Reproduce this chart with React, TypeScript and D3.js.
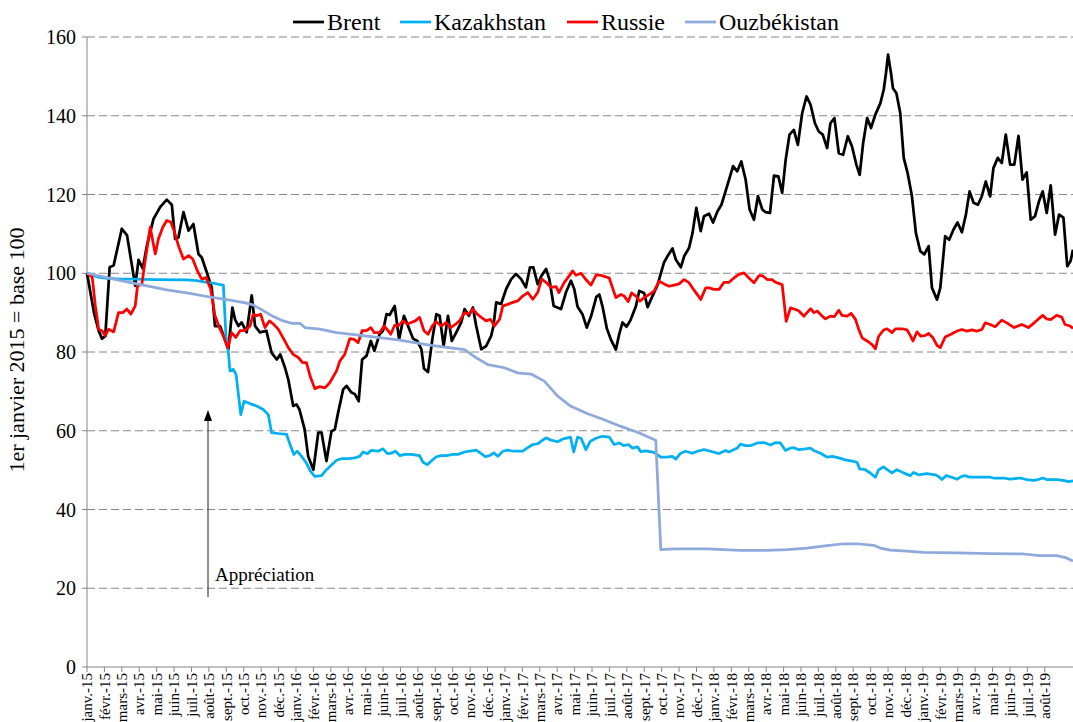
import React from "react";
import * as d3 from "d3";

// time in months since 1 Jan 2015 (0 = janv.-15)
const brentT = [0,0.42,0.67,0.86,1.05,1.3,1.53,2.0,2.3,2.77,2.96,3.2,3.44,3.82,4.2,4.58,4.87,5.06,5.25,5.54,5.83,6.11,6.4,6.59,6.88,7.16,7.35,7.64,8.12,8.35,8.5,8.69,8.88,9.17,9.46,9.65,9.93,10.3,10.6,10.9,11.1,11.37,11.56,11.84,12.03,12.2,12.5,12.7,13.0,13.28,13.47,13.75,14.04,14.23,14.42,14.71,14.9,15.19,15.38,15.6,15.8,16.05,16.3,16.5,16.8,17.0,17.2,17.38,17.67,17.92,18.2,18.47,18.72,18.97,19.2,19.35,19.58,19.83,20.06,20.25,20.48,20.73,20.95,21.2,21.49,21.68,21.93,22.16,22.35,22.64,22.92,23.21,23.34,23.5,23.78,24.07,24.36,24.64,24.93,25.2,25.44,25.63,25.88,26.1,26.36,26.55,26.8,27.22,27.5,27.79,27.98,28.17,28.46,28.7,28.94,29.25,29.42,29.6,29.85,30.1,30.37,30.56,30.75,30.98,31.2,31.52,31.71,31.99,32.19,32.47,32.76,33.14,33.33,33.62,33.81,34.1,34.29,34.57,34.77,34.99,35.24,35.43,35.72,35.95,36.2,36.43,36.64,36.87,37.1,37.34,37.57,37.82,38.05,38.3,38.53,38.78,38.97,39.22,39.45,39.7,39.92,40.12,40.34,40.59,40.82,41.07,41.32,41.55,41.8,42.02,42.25,42.5,42.69,42.92,43.17,43.42,43.69,43.93,44.18,44.37,44.57,44.8,45.02,45.27,45.56,45.75,45.88,46.0,46.17,46.28,46.48,46.7,46.9,47.12,47.37,47.6,47.85,48.08,48.33,48.52,48.81,49.0,49.28,49.51,49.76,49.99,50.24,50.47,50.68,50.91,51.16,51.38,51.61,51.86,52.05,52.3,52.53,52.76,53.01,53.25,53.49,53.72,53.96,54.19,54.44,54.67,54.88,55.11,55.34,55.59,55.82,56.07,56.29,56.48,56.62];
const brentV = [100,89.6,85.4,83.4,84,101.5,102,111.3,109.6,96.8,103.4,101.2,107,113.8,116.8,118.7,117.4,108.7,109.1,115.5,110.8,112.5,104.9,104,100.2,96.4,86.6,86.6,80.7,91.3,88.3,86.6,87.5,85,94.4,86.6,85,85.4,79.8,78.1,79.4,76,73,66.3,66.7,65.4,60.3,53.5,50.1,59.5,59.5,52.3,59.9,60.3,64.6,70.5,71.4,69.7,69.3,67.5,78.1,79,82.8,80.3,84.5,85.4,89.6,89.4,91.7,83.2,89.2,86.2,83.4,82.8,80.7,75.8,74.9,83.2,89.6,89.2,81.5,89.2,82.8,84.9,87.5,90.9,89.2,91.3,86.6,80.7,81.5,84.1,86.6,92.6,92.2,96,98.5,99.8,98.5,96.4,101.5,101.5,97.2,99.4,101.1,98.5,91.7,90.9,95.1,98.1,96,91.5,89.5,86.2,89,94,94.6,91.6,86,83,80.6,84.5,87.5,86.4,88,91.6,95.5,95,91.4,94.2,97,102.8,104.3,106.3,103.5,101.5,104.3,106.4,110.2,116.6,110.7,114.5,115.1,112.9,115.7,117.4,120.4,123.8,127.2,125.9,128.4,123.8,116.2,113.6,119.6,116.2,115.5,115.3,124.8,124.6,120.4,128.8,135.2,136.4,132.6,140.7,144.9,142.8,138.1,136,135.2,131.8,138.1,139.4,130.5,130.1,134.8,132.2,127.6,125,133.1,139.4,136.9,140.3,143.2,146.6,150.8,155.5,150.8,147,145.7,140.7,129.3,125.5,119.6,110.2,105.6,104.8,106.9,96.3,93.3,96.3,109.4,108.5,111.1,112.9,110.4,114.9,120.8,117.9,117.4,119.5,123.3,119.5,126.7,129.3,128,135.2,127.6,127.6,134.9,123.8,125.6,113.6,114.5,118.3,120.8,115.3,122.3,109.8,114.9,114.1,101.8,103.1,106];

const kazT = [0,0.57,1.15,1.91,2.87,3.82,5.73,6.3,6.88,7.26,7.55,7.83,7.98,8.12,8.21,8.4,8.56,8.83,9.02,9.36,9.74,10.12,10.41,10.6,10.98,11.46,11.69,11.88,12.07,12.32,12.6,12.84,13.08,13.47,13.75,14.04,14.33,14.61,15.0,15.38,15.66,15.85,16.1,16.33,16.71,17.0,17.25,17.48,17.71,17.96,18.25,18.62,19.1,19.29,19.54,19.77,20.06,20.34,20.63,21.01,21.3,21.68,21.97,22.35,22.64,22.87,23.12,23.36,23.59,23.88,24.16,24.45,24.74,25.02,25.31,25.6,25.88,26.11,26.36,26.65,27.03,27.32,27.6,27.76,27.95,28.17,28.37,28.65,28.9,29.22,29.6,29.99,30.27,30.56,30.81,31.08,31.33,31.61,31.8,32.09,32.56,32.95,33.3,33.61,33.81,34.09,34.38,34.76,35.05,35.43,35.81,36.29,36.67,36.86,37.34,37.53,37.82,38.1,38.49,38.87,39.25,39.54,39.82,40.11,40.4,40.59,40.87,41.26,41.54,41.73,42.12,42.5,42.79,43.17,43.55,44.03,44.22,44.37,44.69,44.94,45.27,45.46,45.74,46.03,46.22,46.51,46.89,47.27,47.46,47.75,48.23,48.71,48.9,49.09,49.34,49.66,49.95,50.23,50.42,50.71,51.28,51.86,52.05,52.62,53.0,53.58,53.96,54.34,54.63,54.88,55.1,55.68,56.06,56.35,56.62];
const kazV = [100,99.1,98.7,98.5,98.5,98.4,98.3,98.1,97.7,97.5,97.2,97,84.1,79.8,75.2,75.6,74.3,64.1,67.5,66.9,66.3,65.4,64.1,59.5,59.3,59.1,56.1,54,54.8,53.5,51.8,49.7,48.4,48.6,50.1,51.3,52.5,52.9,52.9,53.1,53.5,54.6,54.2,55,54.8,55.4,54.2,54.3,54.8,53.7,54,54,53.7,52,51.4,52.3,53.4,53.7,53.7,54,54,54.6,54.8,55.1,54.2,53.4,53.7,54.4,53.5,54.8,55.1,54.8,54.8,54.8,55.7,56.5,56.7,57.4,58.2,57.6,57.2,57.9,58.2,58.4,54.6,58.3,58.1,55.2,57.3,58.1,58.6,58.4,56.5,56.9,56.2,56.5,55.6,55.9,54.7,54.9,54.5,53.3,53.3,53.5,52.8,54.3,54.8,54.3,54.8,55.2,54.8,54.2,55,54.6,55.6,56.6,56.2,56.2,56.9,57,56.4,57,56.9,55,55.6,55.7,55.2,55.4,55.6,55,54.3,53.3,53.5,53.1,52.6,52.2,52,50.3,50.1,49.4,48.2,50.1,50.8,49.9,49.3,50.1,49.3,48.6,49.4,48.8,49.1,48.8,48.4,47.6,48.6,48.2,47.7,48.4,48.6,48.2,48.2,48.2,48,48,47.7,48,47.6,47.4,47.6,48,47.6,47.6,47.4,47.1,47.3];

const rusT = [0,0.3,0.48,0.67,0.86,1.05,1.24,1.53,1.81,2.06,2.29,2.52,2.77,2.9,3.15,3.34,3.63,3.92,4.1,4.35,4.58,4.81,5.0,5.25,5.54,5.83,6.07,6.34,6.59,6.84,7.1,7.35,7.6,7.83,8.08,8.31,8.54,8.79,9.07,9.36,9.55,9.74,9.97,10.22,10.47,10.7,10.98,11.31,11.56,11.84,12.13,12.38,12.6,12.84,13.08,13.37,13.66,13.94,14.33,14.52,14.8,15.09,15.34,15.57,15.8,16.05,16.3,16.5,16.8,17.06,17.29,17.44,17.67,17.86,18.15,18.4,18.62,18.85,19.1,19.35,19.58,19.83,20.06,20.34,20.63,20.88,21.15,21.39,21.68,21.91,22.16,22.41,22.64,22.92,23.17,23.4,23.69,23.88,24.16,24.45,24.74,25.02,25.31,25.6,25.88,26.11,26.36,26.65,26.94,27.1,27.41,27.7,27.89,28.08,28.37,28.65,28.94,29.23,29.5,29.7,29.99,30.18,30.37,30.66,30.85,31.08,31.27,31.52,31.75,31.99,32.28,32.57,32.86,33.14,33.43,33.72,34.0,34.29,34.57,34.86,35.11,35.24,35.53,35.72,36.01,36.3,36.58,36.87,37.15,37.44,37.73,38.01,38.3,38.59,38.78,39.06,39.34,39.54,39.92,40.15,40.4,40.69,40.88,41.17,41.55,41.74,41.93,42.22,42.41,42.69,42.92,43.17,43.36,43.65,43.88,44.13,44.32,44.51,44.8,45.08,45.27,45.46,45.75,45.94,46.23,46.42,46.8,47.09,47.24,47.43,47.66,47.89,48.14,48.33,48.58,48.81,49.0,49.28,49.61,49.95,50.24,50.52,50.81,51.1,51.38,51.58,51.86,52.15,52.53,52.82,53.24,53.68,54.06,54.44,54.88,55.11,55.34,55.68,55.97,56.16,56.45,56.62];
const rusV = [100,99,91.7,85.8,85.4,84.1,85.8,85.1,90,90,90.9,89.6,91.7,96.8,97.2,103.2,111.7,104.9,108.7,111.7,113.4,113,110.8,107,103.6,104.5,103.6,100.6,98.5,98.9,96,89.2,86.2,84.1,81.1,84.9,83.7,85.4,85.4,86.6,89.6,89.2,89.6,86.2,87.9,87.1,85.8,83.2,81.1,79.4,78.6,77.3,77.3,73.5,70.7,71.2,70.9,72.2,75.2,77.7,79.4,83.4,83.2,82.4,85.4,85.4,86.2,84.9,84.9,86.6,85.4,84.5,86.8,86.6,87.9,87.1,87.5,87.9,88.8,85.4,84.5,86.6,87.7,86.6,87.5,86.2,87,87.9,90,89.6,90.9,89.6,88.8,87.9,88.3,86.6,88.3,91.7,92.1,92.6,93,94.2,95.1,93.4,95.1,98.5,97.7,96.4,96.6,95.1,97.7,99.4,100.6,99.5,100,98.4,97,99.5,99.5,99.2,98.8,96.3,93.8,94.6,94.2,92.8,95,94.2,92.9,93.8,94.6,95.5,98,97.3,96.7,97,97.3,98.4,97.6,95.7,94.2,93.3,96.3,96.3,95.9,95.9,97.7,97.7,98.8,99.7,100.1,98.8,97.6,99.4,99.4,98.4,98.4,97.7,97.1,87.8,91.2,90.8,90.4,89.1,91,90,90.4,89.1,88.4,89.1,89,90.6,89.3,89.1,89.8,88.3,85.7,83.6,82.8,81.9,80.8,84,85.6,85.9,84.9,85.9,85.9,85.6,84.5,82.8,85.1,84,84.2,84.7,83.6,81.7,81.1,83.8,84.5,85.3,85.7,85.3,85.6,85.3,85.7,87.4,87,86.4,88.1,87.4,86.2,87,86.2,87.6,89.3,88.4,88.2,89.3,88.9,87,86.6,86];

const uzbT = [0,1.15,2.29,3.44,4.58,5.73,6.88,8.02,9.17,9.55,10.12,10.7,11.27,11.75,12.23,12.51,13.37,14.33,15.95,17.86,19.77,21.68,22.25,23.02,23.97,24.73,25.5,26.26,27.03,27.79,28.75,29.7,30.66,31.61,32.66,32.95,33.71,35.62,37.53,39.06,40.21,41.35,42.5,43.45,44.22,45.17,45.55,46.13,47.08,48.04,49.95,51.86,53.77,54.72,55.68,56.25,56.62];
const uzbV = [100,98.9,97.8,96.8,95.8,95,94.1,93.3,92.4,91.9,90.5,89,87.9,87.3,87.3,86.2,85.8,84.9,84.1,83.1,81.7,80.6,78.8,76.8,76,74.7,74.4,72.6,68.8,66.2,64.3,62.8,61.1,59.6,57.6,29.8,30,30,29.6,29.6,29.8,30.2,30.8,31.3,31.3,30.9,30.2,29.7,29.4,29.1,29,28.8,28.7,28.3,28.3,27.7,26.9];

const monthNames = ["janv.", "févr.", "mars", "avr.", "mai", "juin", "juil.", "août", "sept.", "oct.", "nov.", "déc."];
const years = ["15", "16", "17", "18", "19"];
const tickLabels: string[] = [];
years.forEach((yy) => monthNames.forEach((m) => tickLabels.push(`${m}-${yy}`)));
const xTickLabels = tickLabels.slice(0, 56); // janv.-15 .. août-19
const yTicks = [0, 20, 40, 60, 80, 100, 120, 140, 160];

const seriesNames = ["Brent", "Kazakhstan", "Russie", "Ouzbékistan"];
const seriesColors = ["#000000", "#00B0F0", "#FF0000", "#8EA9DB"];
const seriesT = [brentT, kazT, rusT, uzbT];
const seriesV = [brentV, kazV, rusV, uzbV];

const W = 1073, H = 722;
const FONT = '"Liberation Serif", "DejaVu Serif", serif';

export default function App() {
  const x = d3.scaleLinear().domain([0, 56.62]).range([87, 1073]);
  const y = d3.scaleLinear().domain([0, 160]).range([667, 37]);
  const line = d3
    .line<[number, number]>()
    .x((d) => x(d[0]))
    .y((d) => y(d[1]));

  const legendX = [293, 400, 567, 685];
  const txt = { fontFamily: FONT };

  return (
    <svg
      width={W}
      height={H}
      style={{ position: "absolute", left: 0, top: 0, background: "#fff", fontFamily: FONT }}
    >
      {/* gridlines */}
      {yTicks.filter((t) => t > 0).map((t) => (
        <line key={t} x1={x(0)} x2={W} y1={y(t)} y2={y(t)} stroke="#868686" strokeWidth={1} strokeDasharray="8,4" />
      ))}
      {/* y axis */}
      <line x1={x(0)} x2={x(0)} y1={y(160)} y2={y(0)} stroke="#868686" strokeWidth={1} />
      {yTicks.map((t) => (
        <g key={t}>
          <line x1={x(0) - 5} x2={x(0)} y1={y(t)} y2={y(t)} stroke="#868686" />
          <text x={76} y={y(t)} dy="0.35em" textAnchor="end" fontSize={20} fill="#000" style={txt}>{t}</text>
        </g>
      ))}
      {/* x axis */}
      <line x1={x(0)} x2={W} y1={y(0)} y2={y(0)} stroke="#868686" strokeWidth={1} />
      {xTickLabels.map((lab, i) => (
        <g key={lab}>
          <line x1={x(i)} x2={x(i)} y1={y(0)} y2={y(0) + 5} stroke="#868686" />
          <text
            transform={`translate(${x(i)},${y(0) + 6}) rotate(-90)`}
            dy="0.35em"
            textAnchor="end"
            fontSize={15}
            fill="#000"
            style={txt}
          >
            {lab}
          </text>
        </g>
      ))}
      {/* y title */}
      <text transform={`translate(24,350) rotate(-90)`} textAnchor="middle" fontSize={22} fill="#000" style={txt}>
        1er janvier 2015 = base 100
      </text>
      {/* series */}
      {seriesNames.map((name, si) => {
        const pts: [number, number][] = seriesT[si].map((t, i) => [t, seriesV[si][i]]);
        return (
          <path key={name} d={line(pts) || ""} fill="none" stroke={seriesColors[si]} strokeWidth={2.75} strokeLinejoin="round" />
        );
      })}
      {/* annotation */}
      <line x1={208} x2={208} y1={597} y2={420} stroke="#222" strokeWidth={1} />
      <path d="M208,410 L204,421 L212,421 Z" fill="#000" />
      <text x={215} y={581} fontSize={19} fill="#000" style={txt}>Appréciation</text>
      {/* legend */}
      {seriesNames.map((name, si) => (
        <g key={name}>
          <line x1={legendX[si]} x2={legendX[si] + 31} y1={22} y2={22} stroke={seriesColors[si]} strokeWidth={2.75} />
          <text x={legendX[si] + 34} y={22} dy="0.33em" fontSize={24} fill="#000" style={txt}>{name}</text>
        </g>
      ))}
    </svg>
  );
}
